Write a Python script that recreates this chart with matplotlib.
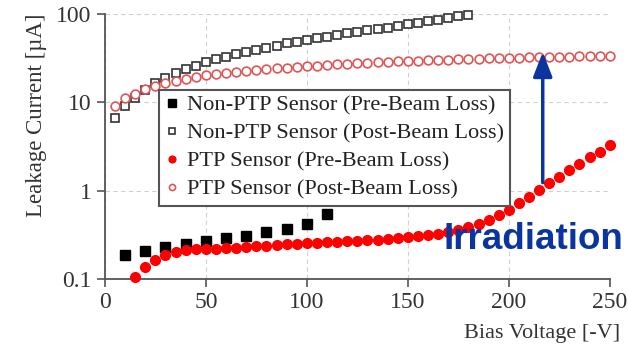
import numpy as np
import matplotlib
matplotlib.use("Agg")
import matplotlib.pyplot as plt

# bias voltage [-V] and leakage current [uA]
v_nonptp_pre = [10, 20, 30, 40, 50, 60, 70, 80, 90, 100, 110]
i_nonptp_pre = [0.19, 0.21, 0.23, 0.25, 0.27, 0.29, 0.31, 0.34, 0.37, 0.42, 0.54]

v_nonptp_post = list(range(5, 181, 5))
i_nonptp_post = [6.7, 9.0, 11.3, 13.8, 16.5, 18.8, 21.4, 23.7, 26.0, 28.4,
                 30.8, 33.0, 35.0, 36.9, 38.9, 41.0, 44.0, 46.7, 48.7, 50.9,
                 53.2, 55.6, 58.1, 60.7, 62.7, 65.5, 67.7, 70.0, 73.1, 76.6,
                 79.8, 82.8, 86.3, 90.2, 94.8, 97.5]

v_ptp_pre = list(range(15, 251, 5))
i_ptp_pre = [0.106, 0.138, 0.164, 0.19, 0.203, 0.213, 0.218, 0.222, 0.222, 0.226,
             0.228, 0.232, 0.236, 0.24, 0.245, 0.248, 0.252, 0.254, 0.257, 0.262,
             0.264, 0.268, 0.271, 0.276, 0.28, 0.286, 0.292, 0.298, 0.306, 0.314,
             0.323, 0.343, 0.364, 0.39, 0.426, 0.473, 0.53, 0.60, 0.73, 0.85,
             1.01, 1.21, 1.43, 1.73, 2.02, 2.39, 2.78, 3.26]

v_ptp_post = list(range(5, 251, 5))
i_ptp_post = [9.0, 11.1, 12.4, 14.1, 15.4, 16.5, 17.6, 18.4, 19.4, 20.3,
              21.0, 21.7, 22.3, 22.9, 23.3, 23.9, 24.4, 24.8, 25.3, 25.7,
              26.1, 26.5, 26.9, 27.3, 27.7, 28.0, 28.4, 28.8, 29.1, 29.4,
              29.7, 30.0, 30.3, 30.5, 30.8, 31.0, 31.3, 31.5, 31.7, 31.9,
              32.1, 32.3, 32.5, 32.7, 32.9, 33.1, 33.2, 33.4, 33.5, 33.7]

labels = ["Non-PTP Sensor (Pre-Beam Loss)", "Non-PTP Sensor (Post-Beam Loss)",
          "PTP Sensor (Pre-Beam Loss)", "PTP Sensor (Post-Beam Loss)"]

plt.rcParams['font.family'] = ['Liberation Serif', 'DejaVu Serif']
plt.rcParams['font.size'] = 16.5

fig = plt.figure(figsize=(6.28, 3.52), dpi=100)
ax = fig.add_axes([0.167, 0.207, 0.804, 0.753])

ax.plot(v_nonptp_pre, i_nonptp_pre, 's', color='black', ms=7.5, ls='none',
        label=labels[0], clip_on=False, zorder=3)
ax.plot(v_nonptp_post, i_nonptp_post, 's', mfc='white', mec='#333333', mew=1.2, ms=6.3,
        ls='none', label=labels[1], clip_on=False, zorder=3)
ax.plot(v_ptp_pre, i_ptp_pre, 'o', color='#ff0000', ms=7, ls='none',
        label=labels[2], clip_on=False, zorder=3)
ax.plot(v_ptp_post, i_ptp_post, 'o', mfc='white', mec='#e05555', mew=1.2, ms=6.3,
        ls='none', label=labels[3], clip_on=False, zorder=3)

ax.set_yscale('log')
ax.set_xlim(0, 250)
ax.set_ylim(0.1, 100)
ax.set_xticks([0, 50, 100, 150, 200, 250])
ax.set_yticks([0.1, 1, 10, 100])
ax.set_yticklabels(['0.1', '1', '10', '100'])
ax.minorticks_off()
ax.grid(True, ls=(0, (4, 3)), color='#d0d0d0', lw=0.8)
ax.set_axisbelow(True)
for s in ['top', 'right']:
    ax.spines[s].set_visible(False)
for s in ['left', 'bottom']:
    ax.spines[s].set_color('#555555')
    ax.spines[s].set_linewidth(1.3)
ax.tick_params(direction='out', length=6, width=1.2, color='#555555',
               labelcolor='#333333', labelsize=17)

ax.set_ylabel('Leakage Current [\u00b5A]', color='#333333')
ax.set_xlabel('Bias Voltage [-V]', color='#333333', fontsize=16)
ax.xaxis.set_label_coords(1.02, -0.17)
ax.xaxis.label.set_horizontalalignment('right')
ax.yaxis.set_label_coords(-0.115, 0.62)

leg = ax.legend(loc='upper left', bbox_to_anchor=(0.108, 0.715), frameon=True,
                fancybox=False, edgecolor='#555555', fontsize=16.1, markerscale=0.7,
                handlelength=0.6, handletextpad=0.4, borderpad=0.25, labelspacing=0.33,
                borderaxespad=0, framealpha=1)
leg.get_frame().set_linewidth(1.5)
for t in leg.get_texts():
    t.set_color('#222222')

ax.annotate('', xy=(216.8, 40), xytext=(216.8, 1.15),
            arrowprops=dict(arrowstyle='-|>,head_width=0.35,head_length=0.9',
                            color='#0a35a0', lw=2.5))
ax.text(167.5, 0.28, 'Irradiation', color='#0a35a0', fontsize=26.5, fontweight='bold',
        family='Liberation Sans', ha='left', va='center', clip_on=False)

fig.savefig('out.png', dpi=100)
